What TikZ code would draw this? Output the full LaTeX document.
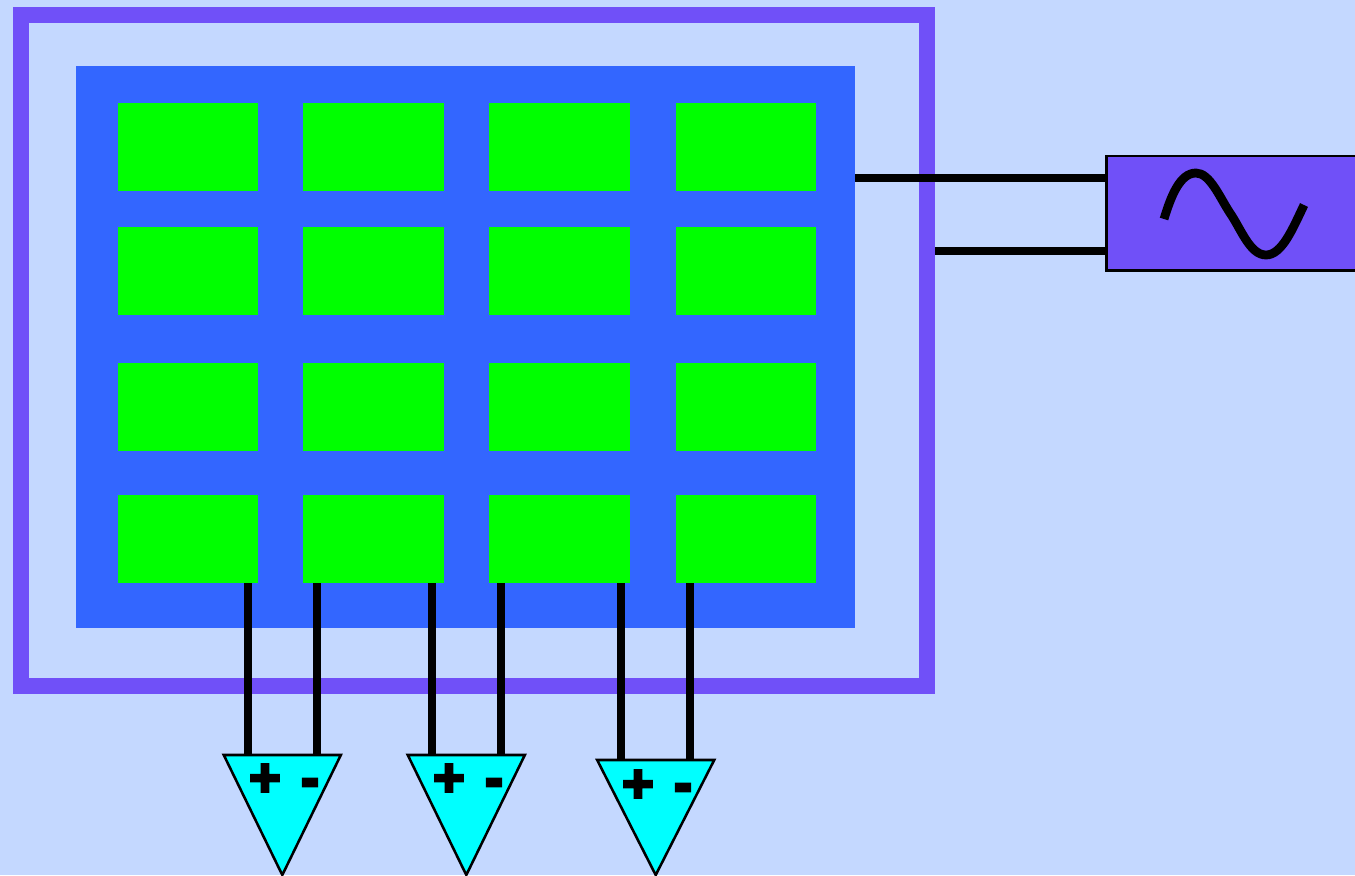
\documentclass[tikz,border=0pt]{standalone}
\usepackage{fontspec}
\usetikzlibrary{calc}
\newfontfamily\pmfont{DejaVu Sans}[BoldFeatures={FakeBold=9}]
\definecolor{bgc}{HTML}{C4D8FF}
\definecolor{violetc}{HTML}{7050F8}
\definecolor{bluec}{HTML}{3366FF}
\definecolor{greenc}{HTML}{00FF00}
\definecolor{cyanc}{HTML}{00FFFF}
\tikzset{
  frame/.style={draw=violetc,line width=12pt,fill=none,minimum width=679.5pt,minimum height=503.25pt,inner sep=0pt,outer sep=6pt},
  board/.style={fill=bluec,minimum width=584.25pt,minimum height=421.5pt,inner sep=0pt,outer sep=0pt},
  cell/.style={fill=greenc,minimum width=105.4pt,minimum height=66pt,inner sep=0pt,outer sep=0pt},
  source/.style={draw=black,fill=violetc,line width=1.8pt,minimum width=190pt,minimum height=86pt,inner sep=0pt},
  wire/.style={draw=black,line width=6pt},
  wave/.style={draw=black,line width=6.6pt},
  ampbox/.style={minimum width=87.8pt,minimum height=90pt,inner sep=0pt,outer sep=0pt},
  amp/.style={draw=black,fill=cyanc,line width=1.9pt,line join=miter},
  sign/.style={inner sep=0pt,outer sep=0pt,font=\pmfont\bfseries\fontsize{31}{31}\selectfont},
  minussign/.style={inner sep=0pt,outer sep=0pt,font=\pmfont\bfseries\fontsize{31}{31}\selectfont}
}
\begin{document}
\begin{tikzpicture}[x=0.75pt,y=-0.75pt]
\useasboundingbox (0,0) rectangle (1355,875);
\clip (0,0) rectangle (1355,875);
\fill[bgc] (0,0) rectangle (1355,875);
\node[board] (board) at (465.5,347) {};
\node[frame] (frame) at (474.3,350.5) {};
\foreach \r/\y in {1/147,2/271,3/407,4/539}
  \foreach \c/\x in {1/188,2/373.5,3/559.5,4/746}
    \node[cell] (c\r\c) at (\x,\y) {};
\node[source] (source) at (1233,213.3) {};
\draw[wave] (1164,219) .. controls (1171,196) and (1180,173) .. (1196,173)
  .. controls (1210,173) and (1220,198) .. (1230,213)
  .. controls (1241,229) and (1250,255) .. (1266,255)
  .. controls (1282,255) and (1293,228) .. (1304,205);
\coordinate (s1) at ($(source.north west)+(0,23.5)$);
\coordinate (s2) at ($(source.south west)+(0,-20.5)$);
\draw[wire] (board.east |- s1) -- (s1);
\draw[wire] (frame.east |- s2) -- (s2);
\node[ampbox] (a1) at (282.3,815) {};
\node[ampbox] (a2) at (466.3,815) {};
\node[ampbox,minimum height=86.25pt] (a3) at (655.7,817.5) {};
\coordinate (w1) at ($(a1.north west)+(24,0)$);
\coordinate (w2) at ($(a1.north east)+(-24,0)$);
\coordinate (w3) at ($(a2.north west)+(24.5,0)$);
\coordinate (w4) at ($(a2.north east)+(-24,0)$);
\coordinate (w5) at ($(a3.north west)+(24,0)$);
\coordinate (w6) at ($(a3.north east)+(-24,0)$);
\draw[wire] (w1 |- c41.south) -- (w1);
\draw[wire] (w2 |- c42.south) -- (w2);
\draw[wire] (w3 |- c42.south) -- (w3);
\draw[wire] (w4 |- c43.south) -- (w4);
\draw[wire] (w5 |- c43.south) -- (w5);
\draw[wire] (w6 |- c44.south) -- (w6);
\foreach \a in {a1,a2,a3}
  \draw[amp] (\a.north west) -- (\a.north east) -- (\a.south) -- cycle;
\node[sign] (p1) at (265,778) {+};
\node[minussign] (m1) at (310,787) {-};
\node[sign] (p2) at (449,778) {+};
\node[minussign] (m2) at (494,787) {-};
\node[sign] (p3) at (638,784) {+};
\node[minussign] (m3) at (683,792) {-};
\end{tikzpicture}
\end{document}
